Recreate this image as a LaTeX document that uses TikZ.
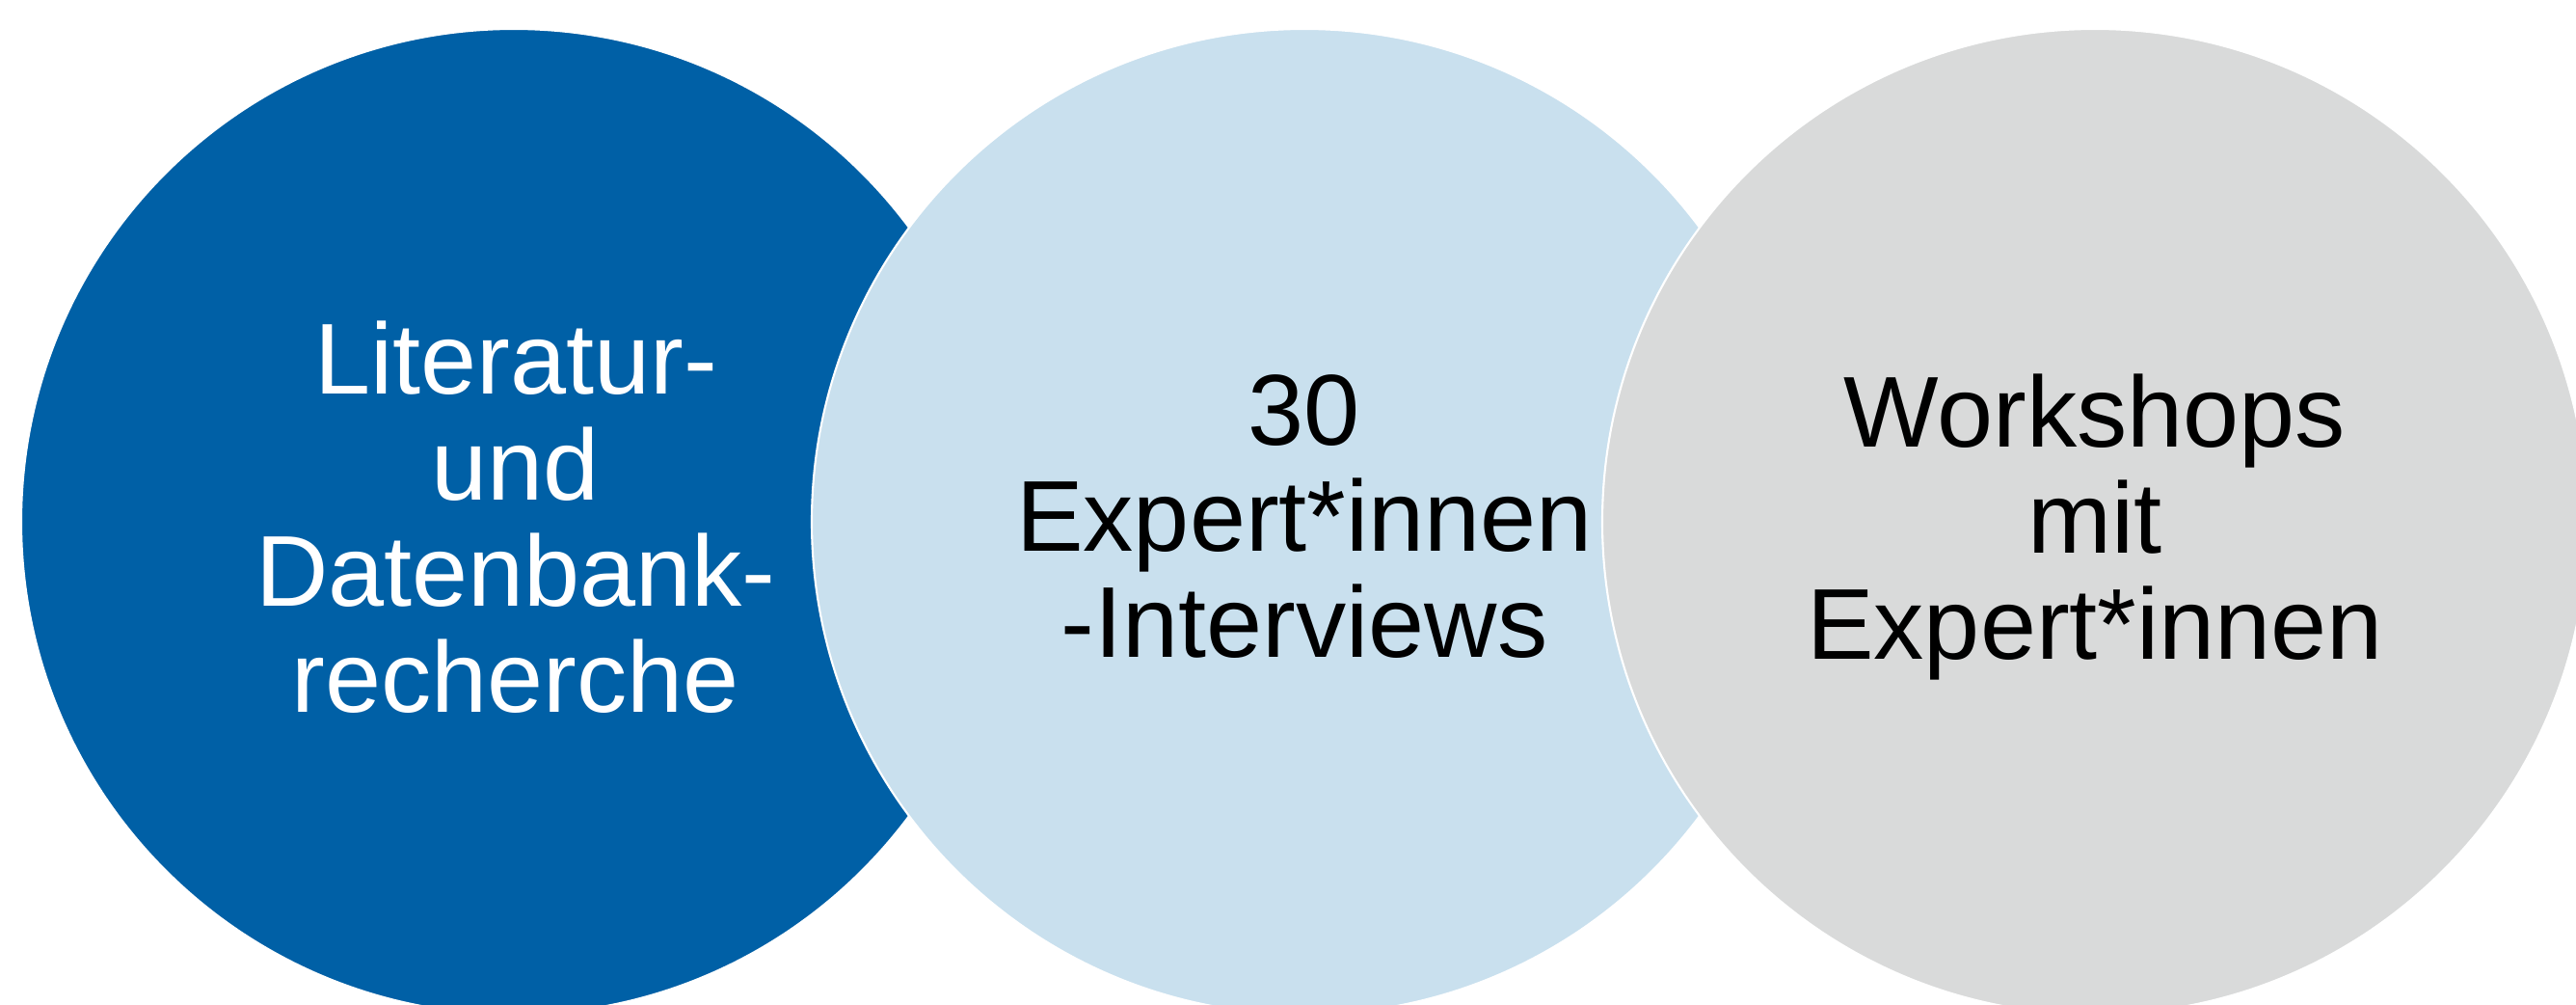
\documentclass[tikz,border=0pt]{standalone}
\usepackage{fontspec}
\setmainfont{Liberation Sans}
\usetikzlibrary{positioning}
\definecolor{litblue}{RGB}{0,96,166}
\definecolor{intblue}{RGB}{201,224,238}
\definecolor{wsgrey}{RGB}{217,218,218}

\begin{document}
\begin{tikzpicture}
 	\tikzstyle{main}=[circle, minimum size = 102.2mm, inner sep=0pt, draw = white, line width=0.6pt, node distance = 82mm, on grid]
 	\tikzstyle{txt}=[align=center, font=\fontsize{29.7}{31.3}\selectfont, inner sep=0pt]
 	\useasboundingbox (0,0) rectangle (26.72,10.42);
 	\clip (0,0) rectangle (26.72,10.42);
 	\node[main, fill = litblue] (lit) at (5.33,5.01) { };
 	\node[main, fill = intblue] (int) [right=of lit] { };
 	\node[main, fill = wsgrey] (ws) [right=of int] { };
 	% texts on top
 	\node[txt, text=white, xshift=0.2mm, yshift=0.45mm] (littxt) at (lit.center) {Literatur-\\und\\Datenbank-\\recherche};
 	\node[txt, yshift=0.55mm] (inttxt) at (int.center) {30\\Expert*innen\\-Interviews};
 	\node[txt, yshift=-0.55mm] (wstxt) at (ws.center) {Workshops\\mit\\Expert*innen};
\end{tikzpicture}
\end{document}
